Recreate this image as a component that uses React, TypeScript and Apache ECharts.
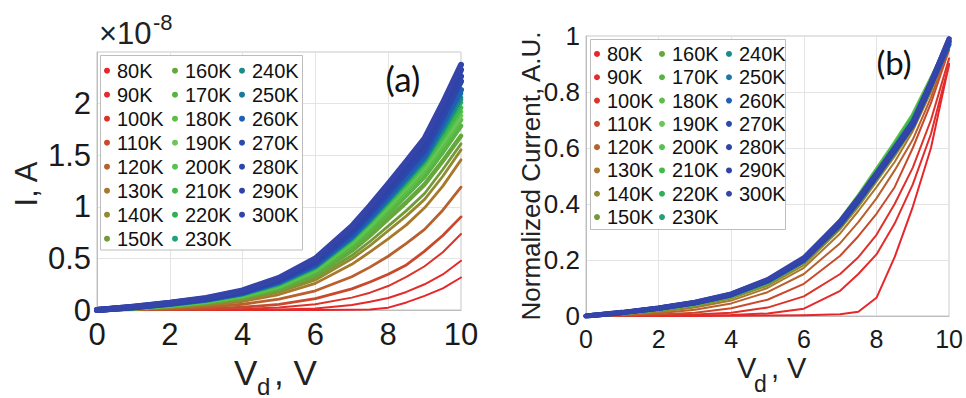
import React, { useEffect, useRef } from 'react';
import * as echarts from 'echarts';

// Drain voltage samples (V)
const voltage = [0, 1, 2, 3, 4, 5, 6, 7, 7.5, 8, 8.5, 9, 9.5, 10];

const temperatures = ['80K', '90K', '100K', '110K', '120K', '130K', '140K', '150K', '160K', '170K', '180K', '190K',
  '200K', '210K', '220K', '230K', '240K', '250K', '260K', '270K', '280K', '290K', '300K'];

const seriesColors = ['#e8262a', '#e42a2a', '#dc3228', '#c9492c', '#b8602e', '#a8782c', '#928a30', '#729a38',
  '#64a83c', '#56b440', '#5cbe48', '#6cc658', '#58c250', '#40ba48', '#2eb05a', '#22a078', '#1a8c88', '#1c78a0',
  '#2060b4', '#2a4aac', '#2c46aa', '#3042a8', '#3444a8'];

// Normalisation current of each temperature (x 1e-8 A)
const peakCurrent = [0.35, 0.53, 0.8, 0.95, 1.24, 1.5, 1.6, 1.66, 1.74, 1.82, 1.88, 1.92, 1.96, 2.0, 2.05, 2.08,
  2.1, 2.14, 2.2, 2.26, 2.31, 2.35, 2.4];

// Normalized current curves
const norm80 = [0, 0, 0, 0, 0.001, 0.002, 0.003, 0.006, 0.015, 0.065, 0.21, 0.39, 0.6, 0.9];
const norm90 = [0, 0, 0, 0.002, 0.004, 0.009, 0.026, 0.09, 0.15, 0.22, 0.33, 0.47, 0.65, 0.9];
const norm100 = [0, 0, 0.002, 0.005, 0.012, 0.03, 0.07, 0.15, 0.21, 0.29, 0.4, 0.53, 0.7, 0.92];
const norm110 = [0, 0.002, 0.005, 0.012, 0.028, 0.058, 0.115, 0.215, 0.285, 0.365, 0.46, 0.6, 0.76, 0.95];
const norm120 = [0, 0.003, 0.01, 0.022, 0.045, 0.085, 0.15, 0.26, 0.335, 0.42, 0.52, 0.63, 0.78, 0.96];
const norm130 = [0, 0.005, 0.014, 0.03, 0.055, 0.1, 0.172, 0.295, 0.375, 0.46, 0.55, 0.66, 0.8, 0.97];
const norm140 = [0, 0.007, 0.018, 0.035, 0.062, 0.108, 0.182, 0.31, 0.39, 0.48, 0.57, 0.67, 0.81, 0.97];
const norm150 = [0, 0.008, 0.02, 0.038, 0.066, 0.113, 0.19, 0.318, 0.4, 0.49, 0.58, 0.68, 0.82, 0.97];
const norm160 = [0, 0.009, 0.022, 0.041, 0.07, 0.118, 0.197, 0.33, 0.415, 0.508, 0.6, 0.7, 0.83, 0.97];
const norm170 = [0, 0.009, 0.023, 0.042, 0.071, 0.12, 0.2, 0.336, 0.422, 0.515, 0.61, 0.71, 0.84, 0.98];
const norm180 = [0, 0.01, 0.023, 0.043, 0.072, 0.121, 0.203, 0.34, 0.426, 0.52, 0.615, 0.715, 0.845, 0.98];
const norm190 = [0, 0.01, 0.024, 0.043, 0.073, 0.122, 0.205, 0.343, 0.43, 0.525, 0.62, 0.72, 0.85, 0.98];
const norm200 = [0, 0.01, 0.024, 0.044, 0.073, 0.122, 0.204, 0.34, 0.428, 0.522, 0.617, 0.716, 0.846, 0.98];
const norm210 = [0, 0.01, 0.025, 0.044, 0.074, 0.123, 0.203, 0.338, 0.424, 0.518, 0.612, 0.712, 0.842, 0.98];
const norm220 = [0, 0.011, 0.025, 0.045, 0.074, 0.123, 0.202, 0.336, 0.42, 0.513, 0.607, 0.706, 0.838, 0.98];
const norm230 = [0, 0.011, 0.026, 0.045, 0.075, 0.124, 0.202, 0.333, 0.417, 0.508, 0.602, 0.698, 0.834, 0.98];
const norm240 = [0, 0.011, 0.026, 0.046, 0.075, 0.124, 0.201, 0.331, 0.415, 0.505, 0.598, 0.693, 0.831, 0.98];
const norm250 = [0, 0.012, 0.027, 0.046, 0.076, 0.125, 0.201, 0.33, 0.413, 0.503, 0.595, 0.688, 0.829, 0.98];
const norm260 = [0, 0.012, 0.027, 0.046, 0.075, 0.124, 0.198, 0.325, 0.408, 0.497, 0.588, 0.68, 0.823, 0.97];
const norm270 = [0, 0.012, 0.028, 0.047, 0.076, 0.126, 0.201, 0.329, 0.412, 0.5, 0.591, 0.683, 0.826, 0.98];
const norm280 = [0, 0.012, 0.028, 0.047, 0.077, 0.127, 0.203, 0.332, 0.415, 0.503, 0.594, 0.686, 0.829, 0.98];
const norm290 = [0, 0.013, 0.029, 0.048, 0.078, 0.128, 0.205, 0.335, 0.418, 0.506, 0.597, 0.69, 0.833, 0.99];
const norm300 = [0, 0.013, 0.029, 0.049, 0.079, 0.13, 0.208, 0.338, 0.421, 0.509, 0.6, 0.693, 0.836, 0.99];

const normCurves = [norm80, norm90, norm100, norm110, norm120, norm130, norm140, norm150, norm160, norm170,
  norm180, norm190, norm200, norm210, norm220, norm230, norm240, norm250, norm260, norm270, norm280, norm290, norm300];

const FONT = 'Liberation Sans, Arial, Helvetica, sans-serif';

function lineWidthFor(i: number) {
  if (i <= 2) return 2;
  if (i <= 7) return 2.8;
  if (i <= 17) return 4.5;
  return 6;
}

function buildOption() {
  const series: any[] = [];
  temperatures.forEach((name, i) => {
    const common = {
      name,
      type: 'line',
      showSymbol: false,
      symbol: 'circle',
      smooth: false,
      color: seriesColors[i],
      lineStyle: { width: lineWidthFor(i), color: seriesColors[i], join: 'round', cap: 'round' },
      itemStyle: { color: seriesColors[i] },
      emphasis: { disabled: true },
      silent: true,
      z: 2,
    };
    series.push({
      ...common,
      xAxisIndex: 0,
      yAxisIndex: 0,
      data: voltage.map((v, k) => [v, normCurves[i][k] * peakCurrent[i]]),
    });
    series.push({
      ...common,
      lineStyle: { ...common.lineStyle, width: Math.max(2, lineWidthFor(i) - 1) },
      xAxisIndex: 1,
      yAxisIndex: 1,
      data: voltage.map((v, k) => [v, normCurves[i][k]]),
    });
  });

  const legend = (names: string[], left: number, top: number, rowH: number) => ({
    show: true,
    orient: 'vertical',
    left,
    top,
    padding: 0,
    itemGap: 0,
    itemWidth: 10,
    itemHeight: 6,
    icon: 'circle',
    selectedMode: false,
    data: names,
    z: 5,
    textStyle: { fontSize: 20, lineHeight: rowH, fontFamily: FONT, color: '#111' },
  });

  const col1 = temperatures.slice(0, 8);
  const col2 = temperatures.slice(8, 16);
  const col3 = temperatures.slice(16);

  const xAxisBase = (gridIndex: number, fontSize: number, margin: number) => ({
    type: 'value',
    gridIndex,
    min: 0,
    max: 10,
    interval: 2,
    axisLine: { show: true, lineStyle: { color: '#bdbdbd', width: 1 } },
    axisTick: { show: false },
    splitLine: { show: true, lineStyle: { color: '#e4e4e4', width: 1 } },
    axisLabel: { fontSize, margin, color: '#1a1a1a', fontFamily: FONT },
  });

  return {
    animation: false,
    backgroundColor: '#ffffff',
    grid: [
      { left: 97, top: 52, width: 364, height: 258, show: true, borderColor: '#c4c4c4', borderWidth: 1, containLabel: false },
      { left: 586, top: 36, width: 366, height: 280, show: true, borderColor: '#c4c4c4', borderWidth: 1, containLabel: false },
    ],
    xAxis: [xAxisBase(0, 31, 9), xAxisBase(1, 25, 10)],
    yAxis: [
      {
        type: 'value',
        gridIndex: 0,
        min: 0,
        max: 2.5,
        interval: 0.5,
        axisLine: { show: true, lineStyle: { color: '#bdbdbd' } },
        axisTick: { show: false },
        splitLine: { show: true, lineStyle: { color: '#e4e4e4' } },
        axisLabel: {
          fontSize: 31,
          margin: 6,
          color: '#1a1a1a',
          fontFamily: FONT,
          formatter: (v: number) => (v >= 2.5 ? '' : String(v)),
        },
      },
      {
        type: 'value',
        gridIndex: 1,
        min: 0,
        max: 1,
        interval: 0.2,
        axisLine: { show: true, lineStyle: { color: '#bdbdbd' } },
        axisTick: { show: false },
        splitLine: { show: true, lineStyle: { color: '#e4e4e4' } },
        axisLabel: { fontSize: 26, margin: 6, color: '#1a1a1a', fontFamily: FONT },
      },
    ],
    legend: [
      legend(col1, 104, 58.7, 24),
      legend(col2, 172, 58.7, 24),
      legend(col3, 239, 58.7, 24),
      legend(col1, 594, 42.3, 23.3),
      legend(col2, 659, 42.3, 23.3),
      legend(col3, 726, 42.3, 23.3),
    ],
    graphic: [
      { type: 'rect', z: 3, shape: { x: 100.5, y: 55.5, width: 202, height: 194.5 }, style: { fill: '#ffffff', stroke: '#bdbdbd', lineWidth: 1 } },
      { type: 'rect', z: 3, shape: { x: 590.5, y: 39.5, width: 195, height: 190 }, style: { fill: '#ffffff', stroke: '#bdbdbd', lineWidth: 1 } },
      { type: 'text', z: 6, x: 403, y: 78, style: { text: '(a)', fontSize: 35, fontFamily: 'Lato, Open Sans, sans-serif', fill: '#111', textAlign: 'center', textVerticalAlign: 'middle' } },
      { type: 'text', z: 6, x: 894, y: 62, style: { text: '(b)', fontSize: 33, fontFamily: 'Lato, Open Sans, sans-serif', fill: '#111', textAlign: 'center', textVerticalAlign: 'middle' } },
      { type: 'text', z: 6, x: 99, y: 33, style: { text: '×10', fontSize: 31, fontFamily: FONT, fill: '#222', textAlign: 'left', textVerticalAlign: 'middle' } },
      { type: 'text', z: 6, x: 153, y: 22, style: { text: '-8', fontSize: 22, fontFamily: FONT, fill: '#222', textAlign: 'left', textVerticalAlign: 'middle' } },
      { type: 'text', z: 6, x: 26, y: 184, rotation: Math.PI / 2, style: { text: 'I, A', fontSize: 31, fontFamily: FONT, fill: '#222', textAlign: 'center', textVerticalAlign: 'middle' } },
      { type: 'text', z: 6, x: 531, y: 176, rotation: Math.PI / 2, style: { text: 'Normalized Current, A.U.', fontSize: 26, fontFamily: FONT, fill: '#222', textAlign: 'center', textVerticalAlign: 'middle' } },
      // panel (a) x label: V_d , V
      { type: 'text', z: 6, x: 234, y: 372, style: { text: 'V', fontSize: 35, fontFamily: FONT, fill: '#222', textAlign: 'left', textVerticalAlign: 'middle' } },
      { type: 'text', z: 6, x: 257, y: 386, style: { text: 'd', fontSize: 24, fontFamily: FONT, fill: '#222', textAlign: 'left', textVerticalAlign: 'middle' } },
      { type: 'text', z: 6, x: 274, y: 372, style: { text: ', V', fontSize: 35, fontFamily: FONT, fill: '#222', textAlign: 'left', textVerticalAlign: 'middle' } },
      // panel (b) x label: V_d , V
      { type: 'text', z: 6, x: 737, y: 368, style: { text: 'V', fontSize: 29, fontFamily: FONT, fill: '#222', textAlign: 'left', textVerticalAlign: 'middle' } },
      { type: 'text', z: 6, x: 754, y: 384, style: { text: 'd', fontSize: 23, fontFamily: FONT, fill: '#222', textAlign: 'left', textVerticalAlign: 'middle' } },
      { type: 'text', z: 6, x: 771, y: 368, style: { text: ', V', fontSize: 29, fontFamily: FONT, fill: '#222', textAlign: 'left', textVerticalAlign: 'middle' } },
    ],
    series,
  };
}

export default function App() {
  const ref = useRef<HTMLDivElement>(null);
  useEffect(() => {
    document.body.style.margin = '0';
    if (!ref.current) return;
    const chart = echarts.init(ref.current, null, { renderer: 'svg' });
    chart.setOption(buildOption() as any);
    return () => {
      chart.dispose();
    };
  }, []);
  return <div ref={ref} style={{ width: 966, height: 398 }} />;
}
